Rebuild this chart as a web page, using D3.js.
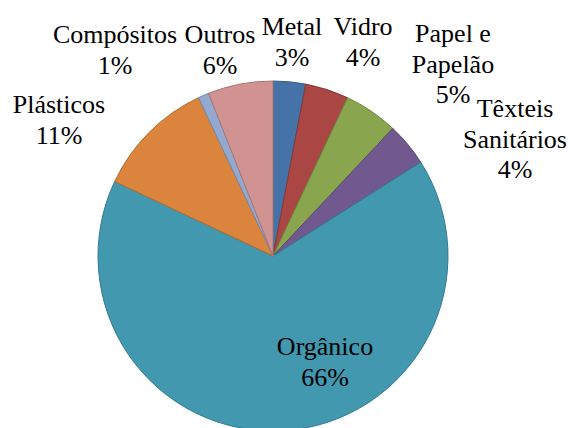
<!DOCTYPE html>
<html>
<head>
<meta charset="utf-8">
<script src="https://cdn.jsdelivr.net/npm/d3@7"></script>
<style>
  html, body { margin: 0; padding: 0; background: #fff; }
  svg { display: block; }
  .lbl { font-family: "Liberation Serif", "Times New Roman", Times, "DejaVu Serif", serif; font-size: 26px; }
</style>
</head>
<body>
<div id="chart"></div>
<script>
// Composição dos resíduos (percentagem)
const categories = ["Metal", "Vidro", "Papel e Papelão", "Têxteis Sanitários", "Orgânico", "Plásticos", "Compósitos", "Outros"];
const values = [3, 4, 5, 4, 66, 11, 1, 6];
const labelLines = [["Metal"], ["Vidro"], ["Papel e", "Papelão"], ["Têxteis", "Sanitários"], ["Orgânico"], ["Plásticos"], ["Compósitos"], ["Outros"]];
const fills = ["#4572A7", "#AA4643", "#89A54E", "#71588F", "#4198AF", "#DB843D", "#93A9CF", "#D19392"];

// Label anchor (centre x, first baseline y) for each slice
const labelAnchors = [[292, 35], [363, 35], [453, 42], [515, 117], [325, 355], [59, 113], [115, 43], [220, 43]];

const W = 570, H = 428;
const cx = 273, cy = 256, R = 175;
const lineH = 30.5;

const svg = d3.select("#chart").append("svg")
  .attr("width", W).attr("height", H);

const data = categories.map((c, i) => ({ name: c, value: values[i], i }));

const pie = d3.pie().value(d => d.value).sort(null);
const arc = d3.arc().innerRadius(0).outerRadius(R);

const g = svg.append("g").attr("transform", `translate(${cx},${cy})`);

g.selectAll("path.slice")
  .data(pie(data))
  .join("path")
  .attr("class", "slice")
  .attr("d", arc)
  .attr("fill", d => fills[d.data.i])
  .attr("stroke", d => d3.color(fills[d.data.i]).darker(0.6))
  .attr("stroke-width", 1);

const labels = svg.append("g")
  .attr("class", "lbl")
  .attr("fill", "#000")
  .attr("text-anchor", "middle");

data.forEach((d, i) => {
  const [x, y] = labelAnchors[i];
  const lines = labelLines[i].concat([d.value + "%"]);
  const t = labels.append("text").attr("class", "lbl").attr("x", x).attr("y", y);
  lines.forEach((ln, k) => {
    t.append("tspan").attr("x", x).attr("y", y + k * lineH).text(ln);
  });
});
</script>
</body>
</html>
